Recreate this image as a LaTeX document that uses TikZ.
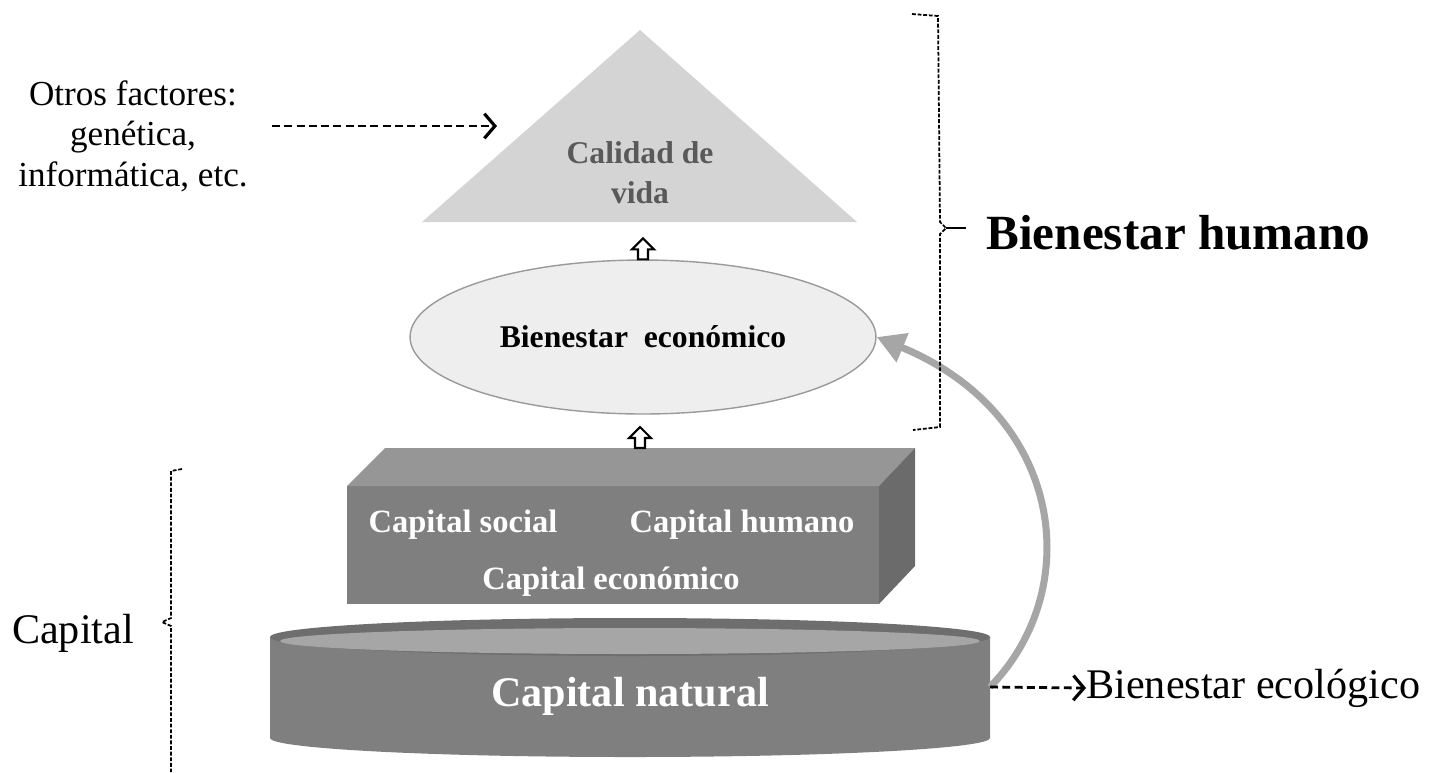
\documentclass[tikz,border=0pt]{standalone}
\usepackage{fontspec}
\setmainfont{Liberation Serif}
\usepackage{tikz}
\usetikzlibrary{arrows.meta,shapes.geometric}

\definecolor{trifill}{HTML}{D4D4D4}
\definecolor{caltext}{HTML}{595959}
\definecolor{ellfill}{HTML}{EEEEEE}
\definecolor{ellline}{HTML}{9A9A9A}
\definecolor{boxfront}{HTML}{7F7F7F}
\definecolor{boxtop}{HTML}{969696}
\definecolor{boxside}{HTML}{6B6B6B}
\definecolor{cylbody}{HTML}{7F7F7F}
\definecolor{cylrim}{HTML}{6E6E6E}
\definecolor{cyltop}{HTML}{A6A6A6}
\definecolor{arrgray}{HTML}{A6A6A6}

\tikzset{
  dasharr/.style={line width=1.6pt, dash pattern=on 4.5pt off 2.5pt,
    -{Straight Barb[length=6pt,width=14pt,line width=1.8pt]}},
  brack/.style={line width=1pt, dash pattern=on 2.2pt off 1pt},
  hollowarr/.style={draw=black, fill=white, line width=1.2pt, line join=miter},
  wtext/.style={text=white, font=\bfseries\fontsize{18.5}{22}\selectfont, inner sep=0pt},
}

\begin{document}
\begin{tikzpicture}[x=0.02cm, y=-0.02cm]
    \useasboundingbox (0,0) rectangle (1436,772);

    \fill[trifill] (422,222) -- (640,30) -- (857,222) -- cycle;
    \node[font=\bfseries\fontsize{18}{22.7}\selectfont, text=caltext, align=center] (calidad) at (640,173) {Calidad de\\vida};

    \node[draw=ellline, fill=ellfill, ellipse, line width=0.8pt, minimum width=9.32cm, minimum height=3.08cm,
          font=\bfseries\fontsize{18}{22}\selectfont] (econ) at (643,337) {Bienestar\ \ económico};

    \fill[cylbody] (270,637) -- (270,738) arc[start angle=180, end angle=0, x radius=360, y radius=19] -- (990,637) -- cycle;
    \fill[cylrim] (630,637) ellipse[x radius=360, y radius=19];
    \fill[cyltop] (630,641) ellipse[x radius=350, y radius=13];
    \node[wtext, font=\bfseries\fontsize{24}{28}\selectfont] (natural) at (630,696) {Capital natural};
    \coordinate (cylE) at (990,687);

    \fill[boxfront] (347,486) rectangle (879,604);
    \fill[boxtop] (347,486) -- (385,448) -- (915,448) -- (879,486) -- cycle;
    \fill[boxside] (879,486) -- (915,448) -- (915,566) -- (879,604) -- cycle;
    \node[wtext] (capsoc) at (463,525) {Capital social};
    \node[wtext] (caphum) at (742,525) {Capital humano};
    \node[wtext] (capeco) at (611,582) {Capital económico};
    \coordinate (boxtopc) at (640,448);

    \draw[hollowarr] (econ.north) -- ++(5,0) -- ++(0,-10) -- ++(6,0) -- ++(-11,-11) -- ++(-11,11) -- ++(6,0) -- ++(0,10) -- cycle;
    \draw[hollowarr] (boxtopc) -- ++(5,0) -- ++(0,-10) -- ++(6,0) -- ++(-11,-11) -- ++(-11,11) -- ++(6,0) -- ++(0,10) -- cycle;

    \draw[arrgray, line width=4pt, -{Triangle[length=16pt,width=17pt]}]
        (cylE) .. controls (1085,590) and (1065,415) .. (econ.east);

    \node[font=\fontsize{20}{23}\selectfont, align=center] (otros) at (133,136) {Otros factores:\\genética,\\informática, etc.};
    \coordinate (fstart) at (272,126);
    \coordinate (ftip) at (497,126);
    \draw[dasharr] (fstart) -- (ftip);

    \draw[brack] (912,14) -- (938,16) -- (940,222) -- (946,228) -- (940,234) -- (940,427) -- (913,430);
    \draw[line width=1pt] (946,228) -- (966,228);
    \node[font=\bfseries\fontsize{28}{32}\selectfont, anchor=west, inner sep=0pt] (bhum) at (986,233) {Bienestar humano};

    \draw[brack] (182,469) -- (171,471) -- (171,618) -- (162,622) -- (171,626) -- (171,772);
    \node[font=\fontsize{24}{28}\selectfont] (capital) at (73,633) {Capital};

    \node[font=\fontsize{24}{28}\selectfont, anchor=west, inner sep=0pt] (beco) at (1086,688) {Bienestar ecológico};
    \draw[dasharr] (cylE) -- (beco.west);
\end{tikzpicture}
\end{document}
